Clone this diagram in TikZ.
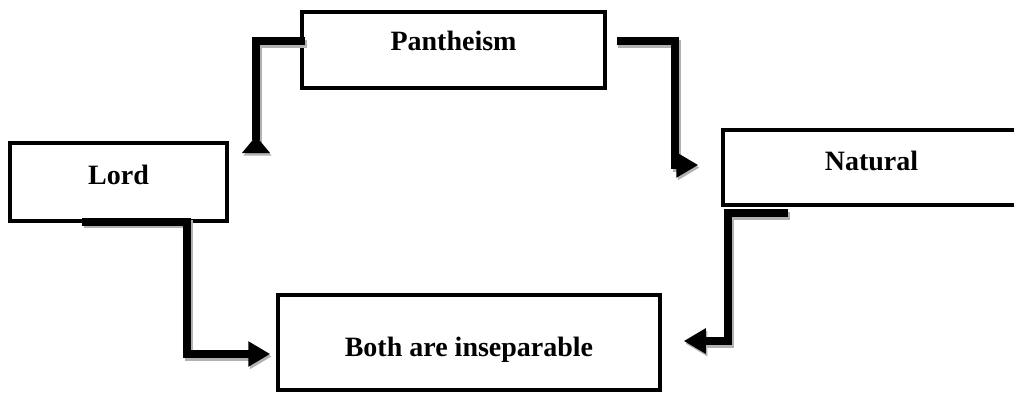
\documentclass[tikz,border=0pt]{standalone}
\usepackage{fontspec}
\setmainfont{Liberation Serif}
\usetikzlibrary{arrows.meta,calc}
\begin{document}
\begin{tikzpicture}[x=1pt,y=-1pt,
  box/.style={draw,line width=3.5pt,rectangle,inner sep=0pt,
    font=\bfseries\fontsize{28}{34}\selectfont,text height=20pt},
  conn/.style={line width=8pt,line join=miter,
    preaction={draw=black!30,line width=8pt,transform canvas={shift={(1.5pt,-2.5pt)}}}},
  tip/.style={-{Triangle[length=22pt,width=24pt]}},
  revtip/.style={-{Triangle[reversed,length=17pt,width=27pt]}}
]
\clip (0,0) rectangle (1014,392);
\fill[white] (0,0) rectangle (1014,392);

\node[box,minimum width=303pt,minimum height=76pt,text depth=20pt] (pan) at (453.5,50) {Pantheism};
\node[box,minimum width=217pt,minimum height=78pt,text depth=16pt] (lord) at (118.5,182) {Lord};
\node[box,minimum width=297pt,minimum height=75pt,text depth=15pt] (nat) at (871.5,167.5) {Natural};
\node[box,minimum width=382pt,minimum height=95pt,text height=27pt,text depth=0pt] (both) at (469,342.5) {Both are inseparable};

\draw[conn,revtip] ([xshift=5pt,yshift=9pt]pan.west) -| (256,153);
\draw[conn,tip] ([xshift=10pt,yshift=9pt]pan.east) -| (675,165) -- ([xshift=-23pt,yshift=2.5pt]nat.west);
\draw[conn,tip] ([xshift=-36.5pt,yshift=1pt]lord.south) -| (187,354) -- ([xshift=-6pt,yshift=-11.5pt]both.west);
\draw[conn,tip] ([xshift=67pt,yshift=-6.5pt]nat.south west) -| (728,341) -- ([xshift=22pt,yshift=1.5pt]both.east);
\end{tikzpicture}
\end{document}
